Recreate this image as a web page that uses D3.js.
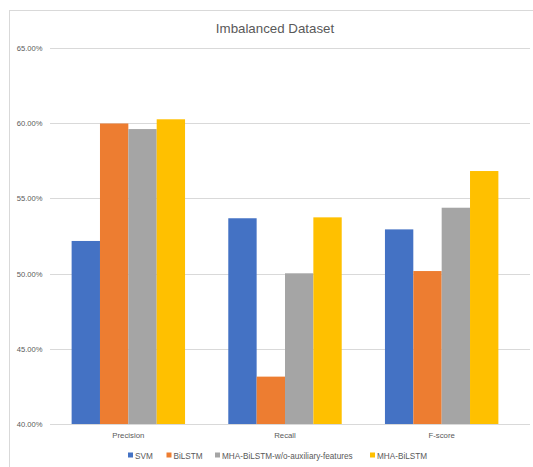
<!DOCTYPE html>
<html>
<head>
<meta charset="utf-8">
<script src="https://cdn.jsdelivr.net/npm/d3@7"></script>
<style>
  html, body { margin: 0; padding: 0; background: #fff; }
  svg { display: block; font-family: "Liberation Sans", Arial, sans-serif; }
</style>
</head>
<body>
<svg id="chart" width="533" height="467"></svg>
<script>
// Metrics on the imbalanced dataset, per model
const categories = ["Precision", "Recall", "F-score"];
const seriesNames = ["SVM", "BiLSTM", "MHA-BiLSTM-w/o-auxiliary-features", "MHA-BiLSTM"];
const svm      = [52.17, 53.68, 52.94];
const bilstm   = [59.98, 43.15, 50.17];
const mhaNoAux = [59.61, 50.02, 54.38];
const mha      = [60.26, 53.74, 56.82];
const yTicks = [40, 45, 50, 55, 60, 65];
const colors = ["#4472C4", "#ED7D31", "#A5A5A5", "#FFC000"];

const seriesValues = [svm, bilstm, mhaNoAux, mha];
const svg = d3.select("#chart");

// outer chart frame
svg.append("rect")
  .attr("x", 9.5).attr("y", 10.5)
  .attr("width", 540).attr("height", 470)
  .attr("fill", "#fff").attr("stroke", "#d9d9d9").attr("stroke-width", 1);

const plot = { left: 50, right: 520, top: 48, bottom: 424, gridRight: 530 };

const x0 = d3.scaleBand().domain(categories).range([plot.left, plot.right]).paddingInner(0.276).paddingOuter(0.138);
const x1 = d3.scaleBand().domain(seriesNames).range([0, x0.bandwidth()]);
const y = d3.scaleLinear().domain([40, 65]).range([plot.bottom, plot.top]);

// title
svg.append("text")
  .attr("x", 275).attr("y", 33)
  .attr("text-anchor", "middle")
  .attr("font-size", 13.3)
  .attr("fill", "#595959")
  .text("Imbalanced Dataset");

// gridlines
svg.append("g").selectAll("line").data(yTicks).join("line")
  .attr("x1", plot.left).attr("x2", plot.gridRight)
  .attr("y1", d => Math.round(y(d)) + 0.5).attr("y2", d => Math.round(y(d)) + 0.5)
  .attr("stroke", "#d9d9d9").attr("stroke-width", 1);

// y axis labels
const yAxis = d3.axisLeft(y).tickValues(yTicks).tickSize(0).tickPadding(0)
  .tickFormat(d => d.toFixed(2) + "%");
const ya = svg.append("g").attr("transform", `translate(${plot.left - 7.5},0)`).call(yAxis);
ya.select(".domain").remove();
ya.selectAll("text").attr("font-size", 7.6).attr("fill", "#595959").attr("font-family", "Liberation Sans, Arial, sans-serif");

// bars
const groups = svg.append("g").selectAll("g").data(categories).join("g")
  .attr("transform", d => `translate(${x0(d)},0)`);
groups.selectAll("rect")
  .data((c, i) => seriesNames.map((s, k) => ({ s, k, v: seriesValues[k][i] })))
  .join("rect")
  .attr("x", d => x1(d.s))
  .attr("width", x1.bandwidth())
  .attr("y", d => y(d.v))
  .attr("height", d => y(40) - y(d.v))
  .attr("fill", d => colors[d.k]);

// baseline
svg.append("line")
  .attr("x1", plot.left).attr("x2", plot.gridRight)
  .attr("y1", plot.bottom + 0.5).attr("y2", plot.bottom + 0.5)
  .attr("stroke", "#d9d9d9");

// category axis labels
const xAxis = d3.axisBottom(x0).tickSize(0).tickPadding(8);
const xa = svg.append("g").attr("transform", `translate(0,${plot.bottom})`).call(xAxis);
xa.select(".domain").remove();
xa.selectAll("text").attr("font-size", 7.8).attr("fill", "#595959").attr("font-family", "Liberation Sans, Arial, sans-serif");

// legend
const legendX = [128, 166.5, 215, 370];
const legend = svg.append("g").selectAll("g").data(seriesNames).join("g")
  .attr("transform", (d, i) => `translate(${legendX[i]},456)`);
legend.append("rect")
  .attr("x", 0).attr("y", -3.5).attr("width", 5).attr("height", 5)
  .attr("fill", (d, i) => colors[i]);
legend.append("text")
  .attr("x", 7).attr("y", 2.5)
  .attr("font-size", 8.2).attr("fill", "#595959")
  .text(d => d);
</script>
</body>
</html>
